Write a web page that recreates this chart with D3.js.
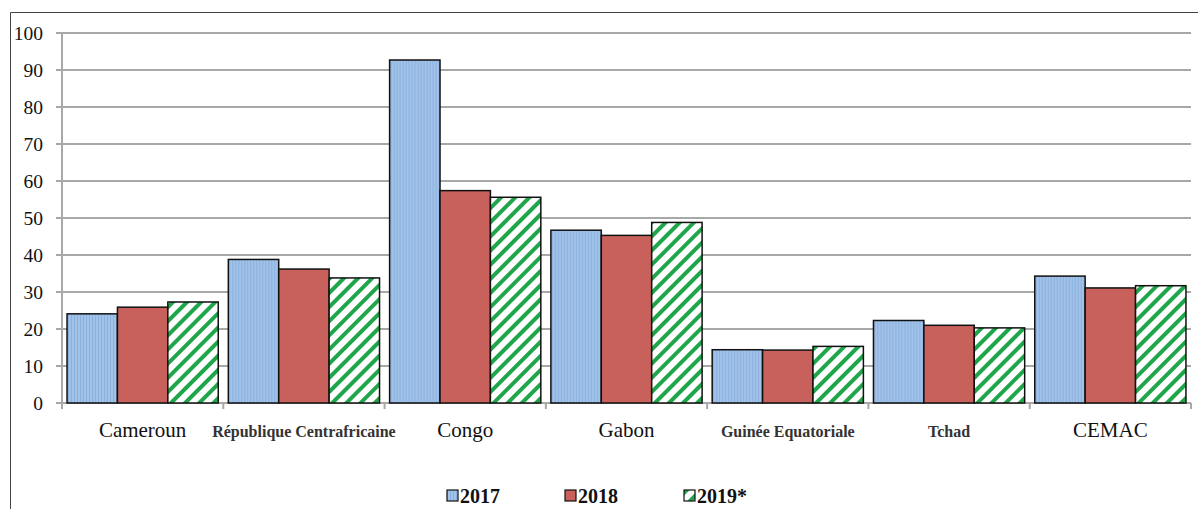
<!DOCTYPE html>
<html>
<head>
<meta charset="utf-8">
<script src="https://cdn.jsdelivr.net/npm/d3@7"></script>
<style>
  body { margin: 0; background: #fff; }
  svg { display: block; }
</style>
</head>
<body>
<svg id="chart" width="1198" height="509"></svg>
<script>
const categories = ["Cameroun", "République Centrafricaine", "Congo", "Gabon", "Guinée Equatoriale", "Tchad", "CEMAC"];
const boldLabels = ["République Centrafricaine", "Guinée Equatoriale", "Tchad"];
const seriesNames = ["2017", "2018", "2019*"];
const values2017 = [24.1, 38.8, 92.7, 46.7, 14.4, 22.3, 34.3];
const values2018 = [25.9, 36.2, 57.4, 45.3, 14.3, 21.0, 31.1];
const values2019 = [27.3, 33.8, 55.6, 48.8, 15.3, 20.3, 31.7];
const yTicks = [0, 10, 20, 30, 40, 50, 60, 70, 80, 90, 100];

const series = [values2017, values2018, values2019];
const fills = ["url(#blueStripes)", "#c8605c", "url(#greenStripes)"];
const serif = "'Liberation Serif', 'Times New Roman', serif";

const svg = d3.select("#chart");
const margin = {left: 62, right: 7, top: 33, bottom: 106};
const width = 1198, height = 509;

// patterns
const defs = svg.append("defs");
const blue = defs.append("pattern")
    .attr("id", "blueStripes")
    .attr("patternUnits", "userSpaceOnUse")
    .attr("width", 3).attr("height", 3);
blue.append("rect").attr("width", 3).attr("height", 3).attr("fill", "#88b1e0");
blue.append("rect").attr("x", 1.5).attr("width", 1).attr("height", 3).attr("fill", "#bcd4f0");

const green = defs.append("pattern")
    .attr("id", "greenStripes")
    .attr("patternUnits", "userSpaceOnUse")
    .attr("width", 10).attr("height", 10)
    .attr("patternTransform", "rotate(45)");
green.append("rect").attr("width", 10).attr("height", 10).attr("fill", "#fff");
green.append("rect").attr("width", 4).attr("height", 10).attr("fill", "#1fa64a");

// frame
svg.append("path")
    .attr("d", `M10.5,${height} V12.5 H${width}`)
    .attr("fill", "none")
    .attr("stroke", "#444")
    .attr("stroke-width", 1);

const x0 = d3.scaleBand()
    .domain(categories)
    .range([margin.left, width - margin.right])
    .paddingInner(0)
    .paddingOuter(0);

const x1 = d3.scaleBand()
    .domain(d3.range(3))
    .range([0, x0.bandwidth()])
    .paddingOuter(0.1);

const y = d3.scaleLinear()
    .domain([0, 100])
    .range([403, margin.top]);

// grid
svg.append("g")
  .selectAll("line")
  .data(yTicks)
  .join("line")
    .attr("x1", margin.left - 6)
    .attr("x2", width - margin.right)
    .attr("y1", d => y(d))
    .attr("y2", d => y(d))
    .attr("stroke", "#a8a8a8")
    .attr("stroke-width", 2);

// y axis line
svg.append("line")
    .attr("x1", margin.left).attr("x2", margin.left)
    .attr("y1", y(100)).attr("y2", y(0) + 6)
    .attr("stroke", "#a8a8a8").attr("stroke-width", 2);

// category ticks
svg.append("g")
  .selectAll("line")
  .data(categories.map(c => x0(c)).concat([x0(categories[categories.length - 1]) + x0.bandwidth()]))
  .join("line")
    .attr("x1", d => d).attr("x2", d => d)
    .attr("y1", y(0)).attr("y2", y(0) + 6)
    .attr("stroke", "#a8a8a8").attr("stroke-width", 2);

// y labels
svg.append("g")
  .selectAll("text")
  .data(yTicks)
  .join("text")
    .attr("x", 43)
    .attr("y", d => y(d))
    .attr("dy", "0.35em")
    .attr("text-anchor", "end")
    .attr("font-family", serif)
    .attr("font-size", 19.5)
    .attr("fill", "#111")
    .text(d => d);

// bars
const groups = svg.append("g")
  .selectAll("g")
  .data(categories)
  .join("g")
    .attr("transform", c => `translate(${x0(c)},0)`);

groups.selectAll("rect")
  .data((c, i) => series.map((s, k) => ({k, v: s[i]})))
  .join("rect")
    .attr("x", d => x1(d.k))
    .attr("width", x1.bandwidth())
    .attr("y", d => y(d.v))
    .attr("height", d => y(0) - y(d.v))
    .attr("fill", d => fills[d.k])
    .attr("stroke", "#111")
    .attr("stroke-width", 1.5);

// category labels
svg.append("g")
  .selectAll("text")
  .data(categories)
  .join("text")
    .attr("x", c => x0(c) + x0.bandwidth() / 2)
    .attr("y", 437)
    .attr("text-anchor", "middle")
    .attr("font-family", serif)
    .attr("font-size", c => boldLabels.includes(c) ? 16 : 21)
    .attr("font-weight", c => boldLabels.includes(c) ? "bold" : "normal")
    .attr("fill", c => boldLabels.includes(c) ? "#333" : "#111")
    .text(c => c);

// legend
const legendX = [447, 565, 684];
const legend = svg.append("g")
  .selectAll("g")
  .data(seriesNames)
  .join("g")
    .attr("transform", (d, i) => `translate(${legendX[i]},490)`);
legend.append("rect")
    .attr("width", 11).attr("height", 11)
    .attr("fill", (d, i) => fills[i])
    .attr("stroke", "#111").attr("stroke-width", 1.2);
legend.append("text")
    .attr("x", 13).attr("y", 13)
    .attr("font-family", serif)
    .attr("font-size", 20)
    .attr("font-weight", "bold")
    .attr("fill", "#111")
    .text(d => d);
</script>
</body>
</html>
